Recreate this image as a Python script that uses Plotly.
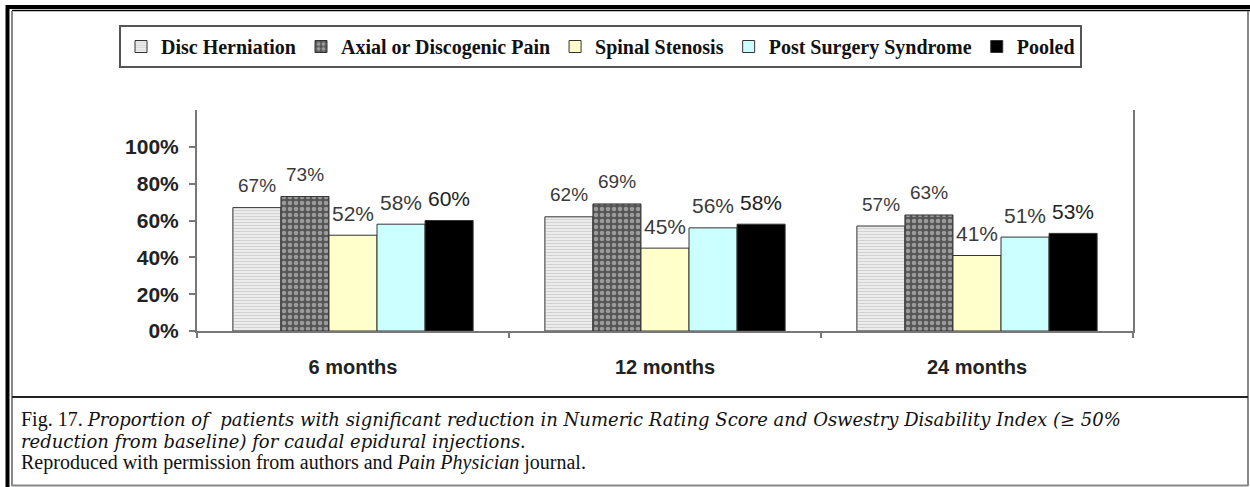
import plotly.graph_objects as go

# ---- data ----
categories = ["6 months", "12 months", "24 months"]
series_names = ["Disc Herniation", "Axial or Discogenic Pain", "Spinal Stenosis",
                "Post Surgery Syndrome", "Pooled"]
disc_herniation = [67, 62, 57]
axial_discogenic = [73, 69, 63]
spinal_stenosis = [52, 45, 41]
post_surgery = [58, 56, 51]
pooled = [60, 58, 53]
y_tick_values = [0, 20, 40, 60, 80, 100]
y_tick_labels = ["0%", "20%", "40%", "60%", "80%", "100%"]

series_values = [disc_herniation, axial_discogenic, spinal_stenosis, post_surgery, pooled]

# ---- layout geometry (pixels) ----
FW, FH = 1250, 487
L, R, T, B = 197, 117, 110, 156
PW = FW - L - R
PH = FH - T - B


def px(x):
    return (x - L) / PW


def py(y):
    return (FH - B - y) / PH


styles = [
    dict(color="#e4e4e4", pattern=dict(shape="-", fgcolor="#b8b8b8", bgcolor="#ececec", size=3, solidity=0.35)),
    dict(color="#5a5a5a", pattern=dict(shape=".", fgcolor="#e2e2e2", bgcolor="#555555", size=6, solidity=0.45)),
    dict(color="#ffffcc"),
    dict(color="#ccffff"),
    dict(color="#000000"),
]

fig = go.Figure()
for name, vals, st in zip(series_names, series_values, styles):
    marker = dict(color=st["color"], line=dict(color="#333333", width=1))
    if "pattern" in st:
        marker["pattern"] = st["pattern"]
    fig.add_trace(go.Bar(name=name, x=categories, y=vals, marker=marker))

# data labels
label_sizes = [19, 19, 21, 21, 21]
label_colors = ["#3a3a3a", "#3a3a3a", "#3a3a3a", "#3a3a3a", "#222222"]
bar_w = PW / len(categories) * (1 - 0.23) / len(series_names)
annotations = []
for i, vals in enumerate(series_values):
    for j, v in enumerate(vals):
        annotations.append(dict(
            x=categories[j], y=v, xref="x", yref="y", text=f"{v}%", showarrow=False,
            xshift=(i - 2) * bar_w, yshift=22, yanchor="middle",
            font=dict(family="Liberation Sans, Arial", size=label_sizes[i], color=label_colors[i])))

# caption
reg = "Liberation Serif, Times New Roman, serif"
ita = "font-family:DejaVu Serif, serif;font-size:18px;font-style:italic"
ita2 = "font-style:italic"
caption_lines = [
    (f"Fig. 17. <span style='{ita}'>Proportion of  patients with significant reduction in Numeric Rating Score and Oswestry Disability Index (≥ 50%</span>", 419),
    (f"<span style='{ita}'>reduction from baseline) for caudal epidural injections</span>.", 441),
    (f"Reproduced with permission from authors and <span style='{ita2}'>Pain Physician</span> journal.", 462),
]
for txt, yy in caption_lines:
    annotations.append(dict(
        x=px(19), y=py(yy), xref="paper", yref="paper", text=txt, showarrow=False,
        xanchor="left", yanchor="middle",
        font=dict(family=reg, size=20, color="#111111")))

# frame shapes
def hline(x0, x1, y, color, width):
    return dict(type="line", xref="paper", yref="paper", x0=px(x0), x1=px(x1),
                y0=py(y), y1=py(y), line=dict(color=color, width=width))


def vline(x, y0, y1, color, width):
    return dict(type="line", xref="paper", yref="paper", x0=px(x), x1=px(x),
                y0=py(y0), y1=py(y1), line=dict(color=color, width=width))


shapes = [
    hline(6, 1250, 7, "#000", 4),
    hline(12, 1250, 10.5, "#000", 1.5),
    vline(7.5, 5, 487, "#000", 4),
    vline(12, 11, 486, "#888", 2),
    vline(1248, 11, 486, "#888", 2),
    hline(12, 1248, 485.5, "#888", 2),
    hline(12, 1248, 397, "#222", 2),
]

fig.update_layout(
    width=FW, height=FH,
    margin=dict(l=L, r=R, t=T, b=B, autoexpand=False),
    paper_bgcolor="white", plot_bgcolor="white",
    barmode="group", bargap=0.23, bargroupgap=0,
    showlegend=True,
    legend=dict(
        orientation="h", x=px(119), y=py(25), xanchor="left", yanchor="top",
        bordercolor="#555555", borderwidth=2, bgcolor="white",
        font=dict(family="Liberation Serif, Times New Roman, serif", size=20, color="#111", weight="bold"),
        itemwidth=30, traceorder="normal",
    ),
    annotations=annotations,
    shapes=shapes,
)
fig.update_xaxes(
    type="category", showline=True, linecolor="#777777", linewidth=2,
    ticks="outside", tickson="boundaries", ticklen=5, tickcolor="#777777", tickwidth=2,
    showgrid=False, zeroline=False,
    tickfont=dict(family="Liberation Sans, Arial", size=20, color="#222", weight="bold"),
    ticklabelstandoff=17,
)
fig.update_yaxes(
    range=[0, 120], tickvals=y_tick_values, ticktext=y_tick_labels,
    showline=True, mirror=True, linecolor="#777777", linewidth=2,
    ticks="outside", ticklen=6, tickcolor="#777777", tickwidth=2,
    showgrid=False, zeroline=False,
    tickfont=dict(family="Liberation Sans, Arial", size=21, color="#222", weight="bold"),
    ticklabelstandoff=6,
)

fig.write_html("out.html", config={"displayModeBar": False},
               post_script="document.body.style.margin='0px';document.body.style.overflow='hidden';")
